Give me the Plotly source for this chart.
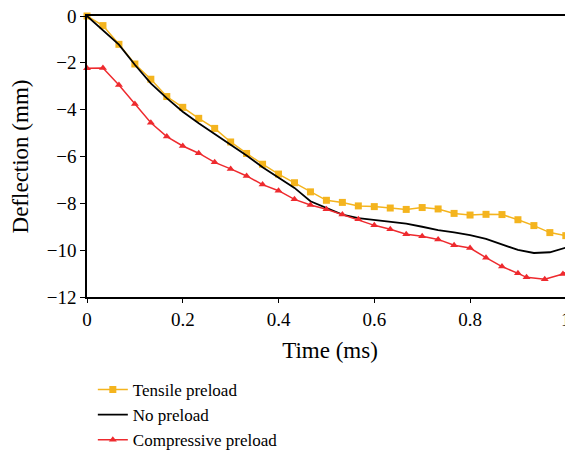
import plotly.graph_objects as go

# time grid (ms), one sample every 1/30 ms
t_grid = [i / 30 for i in range(31)] + [1.033]

tensile = [0, -0.41, -1.21, -2.05, -2.70, -3.44, -3.90, -4.37, -4.80, -5.38,
           -5.87, -6.33, -6.75, -7.12, -7.51, -7.87, -7.96, -8.11, -8.14, -8.20,
           -8.26, -8.18, -8.24, -8.43, -8.50, -8.47, -8.48, -8.70, -8.95, -9.25,
           -9.38, -9.28]

no_preload = [0, -0.62, -1.22, -2.08, -2.88, -3.51, -4.09, -4.58, -5.04, -5.51,
              -5.96, -6.46, -6.89, -7.34, -7.91, -8.21, -8.48, -8.63, -8.71, -8.78,
              -8.87, -9.00, -9.14, -9.24, -9.36, -9.52, -9.75, -9.99, -10.12, -10.09,
              -9.89, -9.68]

t_comp = [i / 30 for i in range(28)] + [0.918, 0.956, 0.994, 1.033]
compressive = [-2.23, -2.22, -2.95, -3.76, -4.56, -5.15, -5.55, -5.86, -6.25, -6.53,
               -6.83, -7.20, -7.46, -7.83, -8.07, -8.25, -8.48, -8.68, -8.94, -9.11,
               -9.32, -9.41, -9.54, -9.79, -9.91, -10.32, -10.70, -10.99, -11.16, -11.24,
               -11.02, -10.45]

x_ticks = [0, 0.2, 0.4, 0.6, 0.8, 1]
x_labels = ["0", "0.2", "0.4", "0.6", "0.8", "1"]
y_ticks = [0, -2, -4, -6, -8, -10, -12]
y_labels = ["0", "\u22122", "\u22124", "\u22126", "\u22128", "\u221210", "\u221212"]

font = "Liberation Serif, Times New Roman, serif"

trace1 = go.Scatter(
    x=t_grid, y=tensile,
    mode='lines+markers',
    line=dict(color='#F4B41E', width=1.5),
    marker=dict(symbol='square', size=7, color='#F4B41E'),
    name='Tensile preload',
    cliponaxis=False,
)
trace2 = go.Scatter(
    x=t_grid, y=no_preload,
    mode='lines',
    line=dict(color='black', width=1.8),
    name='No preload',
)
trace3 = go.Scatter(
    x=t_comp, y=compressive,
    mode='lines+markers',
    line=dict(color='#EE2A2E', width=1.5),
    marker=dict(symbol='triangle-up', size=7, color='#EE2A2E'),
    name='Compressive preload',
    cliponaxis=False,
)

# the page body adds an 8px margin, so the figure is 8px smaller each way
layout = go.Layout(
    width=565, height=451,
    margin=dict(l=79, r=0, t=8, b=162),
    paper_bgcolor='white', plot_bgcolor='white',
    font=dict(family=font, size=19, color='black'),
    showlegend=True,
    legend=dict(
        orientation='v', x=0.012, y=-0.573, xanchor='left', yanchor='bottom',
        font=dict(family=font, size=17, color='black'),
        tracegroupgap=0, itemwidth=30,
        bgcolor='rgba(0,0,0,0)',
    ),
    xaxis=dict(
        title=dict(text='Time (ms)', standoff=13),
        automargin=True,
        range=[0, 1.015],
        tickvals=x_ticks, ticktext=x_labels,
        ticklabeloverflow='allow',
        ticks='outside', ticklen=4, tickcolor='black', tickwidth=1.2,
        showline=True, linecolor='black', linewidth=1.5, mirror=True,
        showgrid=False, zeroline=False,
    ),
    yaxis=dict(
        title=dict(text='Deflection (mm)'),
        automargin=False,
        range=[-12, 0],
        tickvals=y_ticks, ticktext=y_labels,
        ticklabeloverflow='allow',
        ticks='outside', ticklen=5, tickcolor='black', tickwidth=1.2,
        showline=True, linecolor='black', linewidth=1.5,
        showgrid=False, zeroline=False,
    ),
)

fig = go.Figure(data=[trace1, trace2, trace3], layout=layout)
fig.write_html("out.html")
